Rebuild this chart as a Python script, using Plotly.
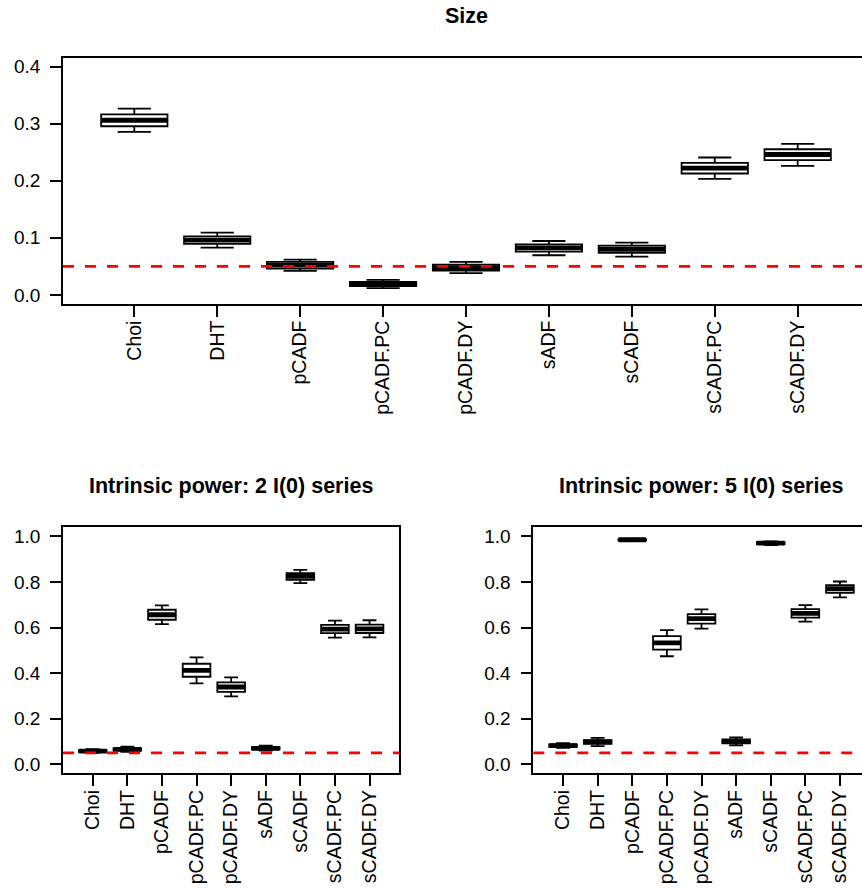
import plotly.graph_objects as go

categories = ["Choi", "DHT", "pCADF", "pCADF.PC", "pCADF.DY", "sADF", "sCADF", "sCADF.PC", "sCADF.DY"]
nominal_size = 0.05

# Panel 1: Size  (lower whisker, q1, median, q3, upper whisker)
size_low = [0.2855, 0.0827, 0.042, 0.0117, 0.038, 0.0694, 0.067, 0.2033, 0.226]
size_q1 = [0.2955, 0.0892, 0.046, 0.0152, 0.0425, 0.0757, 0.0734, 0.2127, 0.236]
size_med = [0.306, 0.096, 0.052, 0.0187, 0.0477, 0.0822, 0.0799, 0.222, 0.246]
size_q3 = [0.3164, 0.1026, 0.0577, 0.0227, 0.053, 0.0886, 0.0862, 0.2313, 0.2552]
size_high = [0.3264, 0.109, 0.0617, 0.0262, 0.0577, 0.0944, 0.0914, 0.2407, 0.2645]

# Panel 2: Intrinsic power, 2 I(0) series
p2_low = [0.050, 0.054, 0.615, 0.355, 0.298, 0.060, 0.795, 0.556, 0.557]
p2_q1 = [0.054, 0.060, 0.634, 0.384, 0.318, 0.065, 0.809, 0.575, 0.576]
p2_med = [0.058, 0.065, 0.656, 0.412, 0.339, 0.070, 0.824, 0.593, 0.594]
p2_q3 = [0.062, 0.070, 0.678, 0.441, 0.359, 0.075, 0.838, 0.612, 0.613]
p2_high = [0.066, 0.077, 0.697, 0.469, 0.381, 0.082, 0.853, 0.630, 0.632]

# Panel 3: Intrinsic power, 5 I(0) series
p5_low = [0.072, 0.080, 0.979, 0.474, 0.595, 0.083, 0.962, 0.626, 0.732]
p5_q1 = [0.077, 0.090, 0.982, 0.503, 0.617, 0.092, 0.966, 0.643, 0.752]
p5_med = [0.082, 0.098, 0.985, 0.533, 0.639, 0.100, 0.970, 0.662, 0.770]
p5_q3 = [0.087, 0.106, 0.987, 0.562, 0.659, 0.109, 0.974, 0.681, 0.786]
p5_high = [0.093, 0.116, 0.990, 0.589, 0.680, 0.118, 0.978, 0.698, 0.802]

size_ticks = [0.0, 0.1, 0.2, 0.3, 0.4]
power_ticks = [0.0, 0.2, 0.4, 0.6, 0.8, 1.0]

titles = ["Size", "Intrinsic power: 2 I(0) series", "Intrinsic power: 5 I(0) series"]

W, H = 862, 893
FONT = "Liberation Sans, Arial, sans-serif"
positions = list(range(1, len(categories) + 1))

fig = go.Figure()

panels = [
    dict(low=size_low, q1=size_q1, med=size_med, q3=size_q3, high=size_high,
         xd=(63 / W, 1.0), xr=[0.14, 0.14 + (W - 63) / 82.92],
         yd=(1 - 304 / H, 1 - 56.7 / H), yr=[-0.016, 0.416], ticks=size_ticks,
         mirror_y=False, title_y=15.5, title_x=466),
    dict(low=p2_low, q1=p2_q1, med=p2_med, q3=p2_q3, high=p2_high,
         xd=(63 / W, 399.3 / W), xr=[0.14, 9.86],
         yd=(1 - 775 / H, 1 - 528 / H), yr=[-0.04, 1.04], ticks=power_ticks,
         mirror_y=True, title_y=486.5, title_x=231),
    dict(low=p5_low, q1=p5_q1, med=p5_med, q3=p5_q3, high=p5_high,
         xd=(533.3 / W, 1.0), xr=[0.14, 0.14 + (W - 533.3) / 34.61],
         yd=(1 - 775 / H, 1 - 528 / H), yr=[-0.04, 1.04], ticks=power_ticks,
         mirror_y=False, title_y=486.5, title_x=701),
]

layout_upd = {}
for i, p in enumerate(panels):
    n = "" if i == 0 else str(i + 1)
    xa, ya = "x" + n, "y" + n
    fig.add_trace(go.Box(
        x=positions, q1=p["q1"], median=p["med"], q3=p["q3"],
        lowerfence=p["low"], upperfence=p["high"],
        width=0.8, whiskerwidth=0.5, boxpoints=False,
        fillcolor="white", line=dict(color="black", width=1.8),
        xaxis=xa, yaxis=ya, showlegend=False, hoverinfo="skip"))
    # thick median lines
    mx, my = [], []
    for pos, m in zip(positions, p["med"]):
        mx += [pos - 0.4, pos + 0.4, None]
        my += [m, m, None]
    fig.add_trace(go.Scatter(x=mx, y=my, mode="lines",
                             line=dict(color="black", width=4.8),
                             xaxis=xa, yaxis=ya, showlegend=False, hoverinfo="skip"))
    # nominal size reference line
    fig.add_shape(type="line", xref=xa + " domain", yref=ya,
                  x0=0, x1=1, y0=nominal_size, y1=nominal_size,
                  line=dict(color="red", width=2.8, dash="11px,11px"), layer="above")
    layout_upd["xaxis" + n] = dict(
        domain=list(p["xd"]), range=p["xr"], anchor=ya,
        tickmode="array", tickvals=positions, ticktext=categories,
        tickangle=-90, ticks="outside", ticklen=11, tickwidth=1.5, tickcolor="black",
        showline=True, mirror=True, linecolor="black", linewidth=1.6,
        showgrid=False, zeroline=False, ticklabelstandoff=-4,
        tickfont=dict(family=FONT, size=19.5, color="black"))
    layout_upd["yaxis" + n] = dict(
        domain=list(p["yd"]), range=p["yr"], anchor=xa,
        tickmode="array", tickvals=p["ticks"], ticktext=["%.1f" % t for t in p["ticks"]],
        ticks="outside", ticklen=11, tickwidth=1.5, tickcolor="black",
        showline=True, mirror=p["mirror_y"], linecolor="black", linewidth=1.6,
        showgrid=False, zeroline=False, ticklabelstandoff=6,
        tickfont=dict(family=FONT, size=19, color="black"))
    fig.add_annotation(text="<b>%s</b>" % titles[i], xref="paper", yref="paper",
                       x=p["title_x"] / W, y=1 - p["title_y"] / H,
                       xanchor="center", yanchor="middle", showarrow=False,
                       font=dict(family=FONT, size=21.5, color="black"))

fig.update_layout(width=W, height=H, margin=dict(l=0, r=0, t=0, b=0),
                  plot_bgcolor="white", paper_bgcolor="white", **layout_upd)

fig.write_html("out.html", config={"displayModeBar": False},
               post_script="document.body.style.margin='0';document.body.style.overflow='hidden';")
